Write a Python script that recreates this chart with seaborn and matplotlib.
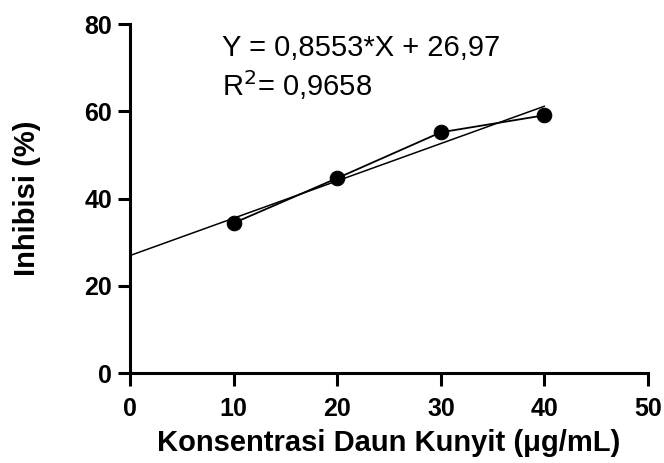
import numpy as np
import pandas as pd
import matplotlib
matplotlib.use("Agg")
import matplotlib.pyplot as plt
import seaborn as sns

# Data
konsentrasi = [10, 20, 30, 40]
inhibisi = [34.4, 44.7, 55.2, 59.1]

# Regression given on the chart
slope = 0.8553
intercept = 26.97
fit_x = [0, 40]

sns.set_style("ticks", {'axes.edgecolor': 'black', 'text.color': 'black',
                        'axes.labelcolor': 'black', 'xtick.color': 'black',
                        'ytick.color': 'black'})
plt.rcParams['font.family'] = ['Liberation Sans', 'DejaVu Sans']

fig = plt.figure(figsize=(6.64, 4.63), dpi=100)
ax = fig.add_axes([0.196, 0.194, 0.78, 0.754])

df = pd.DataFrame({'x': konsentrasi, 'y': inhibisi})
sns.lineplot(data=df, x='x', y='y', ax=ax, color='black', linewidth=1.3,
             marker='o', markersize=10.5, markeredgecolor='black')

fx = np.array(fit_x)
ax.plot(fx, slope * fx + intercept, color='black', linewidth=1.1)

ax.set_xlim(0, 50)
ax.set_ylim(0, 80)
ax.set_xticks([0, 10, 20, 30, 40, 50])
ax.set_yticks([0, 20, 40, 60, 80])

for side in ['top', 'right']:
    ax.spines[side].set_visible(False)
for side in ['left', 'bottom']:
    ax.spines[side].set_linewidth(2.2)
ax.tick_params(width=2.2, length=9, labelsize=18, colors='black')
ax.tick_params(axis='x', pad=8)
ax.tick_params(axis='y', pad=4)
for lbl in ax.get_xticklabels() + ax.get_yticklabels():
    lbl.set_fontweight('bold')

ax.set_xlabel('Konsentrasi Daun Kunyit (μg/mL)', fontsize=21, fontweight='bold',
              labelpad=6, color='black')
ax.set_ylabel('Inhibisi (%)', fontsize=21, fontweight='bold', labelpad=31,
              color='black')

ax.text(0.178, 0.932, 'Y = 0,8553*X + 26,97', transform=ax.transAxes,
        fontsize=21, va='center', ha='left', color='black')
ax.text(0.178, 0.825, 'R$^2$= 0,9658', transform=ax.transAxes,
        fontsize=21, va='center', ha='left', color='black')

fig.savefig('out.png', dpi=100)
